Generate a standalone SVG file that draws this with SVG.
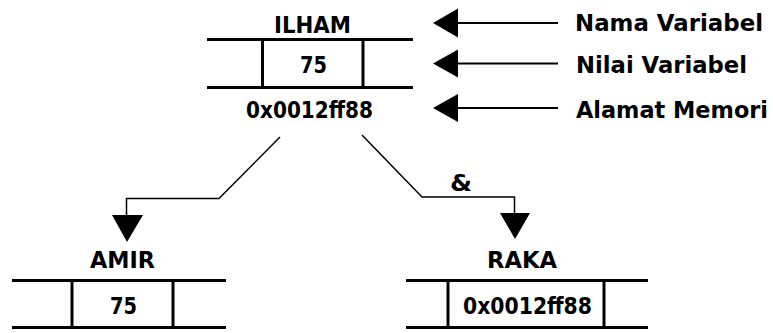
<svg xmlns="http://www.w3.org/2000/svg" width="773" height="333" viewBox="0 0 773 333">
<style>
text{font-family:"DejaVu Sans","Liberation Sans",sans-serif;font-weight:bold;font-size:23px;fill:#000}
.rule{stroke:#000;stroke-width:3;fill:none}
.conn{stroke:#000;stroke-width:1.5;fill:none}
.lbl{stroke:#000;stroke-width:2;fill:none}
.head{fill:#000;stroke:none}
</style>
<rect width="773" height="333" fill="#fff"/>
<g id="ilham">
<text x="274" y="33" textLength="77" lengthAdjust="spacingAndGlyphs">ILHAM</text>
<path class="rule" d="M207 39.5H413M207 87.5H413M262.5 39.5V87.5M363 39.5V87.5"/>
<text x="300" y="73" textLength="27" lengthAdjust="spacingAndGlyphs">75</text>
<text x="246" y="118" textLength="127" lengthAdjust="spacingAndGlyphs">0x0012ff88</text>
</g>
<g id="amir">
<text x="90" y="268" textLength="65" lengthAdjust="spacingAndGlyphs">AMIR</text>
<path class="rule" d="M12 280.5H226M12 327.5H226M72 280.5V327.5M173 280.5V327.5"/>
<text x="110" y="314" textLength="27" lengthAdjust="spacingAndGlyphs">75</text>
</g>
<g id="raka">
<text x="487" y="268" textLength="70" lengthAdjust="spacingAndGlyphs">RAKA</text>
<path class="rule" d="M406 280.5H648M406 327.5H648M448 280.5V327.5M604 280.5V327.5"/>
<text x="463" y="314" textLength="129" lengthAdjust="spacingAndGlyphs">0x0012ff88</text>
</g>
<g id="legend-nama">
<path class="lbl" d="M456 23H558"/>
<polygon class="head" points="433,23 458,8.5 458,37.5"/>
<text x="575" y="31" textLength="188" lengthAdjust="spacingAndGlyphs">Nama Variabel</text>
</g>
<g id="legend-nilai">
<path class="lbl" d="M456 63.5H558"/>
<polygon class="head" points="433,63.5 458,49.5 458,77.5"/>
<text x="576" y="73" textLength="171" lengthAdjust="spacingAndGlyphs">Nilai Variabel</text>
</g>
<g id="legend-alamat">
<path class="lbl" d="M456 108H558"/>
<polygon class="head" points="433,108 458,94 458,122"/>
<text x="576" y="118" textLength="192" lengthAdjust="spacingAndGlyphs">Alamat Memori</text>
</g>
<g id="connectors">
<path class="conn" d="M280 137L219 198.5H126.5V216"/>
<polygon class="head" points="112,215 143,215 127,242"/>
<path class="conn" d="M362 135L422 197H514.5V214"/>
<polygon class="head" points="500,213 530,213 515,239"/>
<text x="450" y="191" textLength="22" lengthAdjust="spacingAndGlyphs">&amp;</text>
</g>
</svg>
